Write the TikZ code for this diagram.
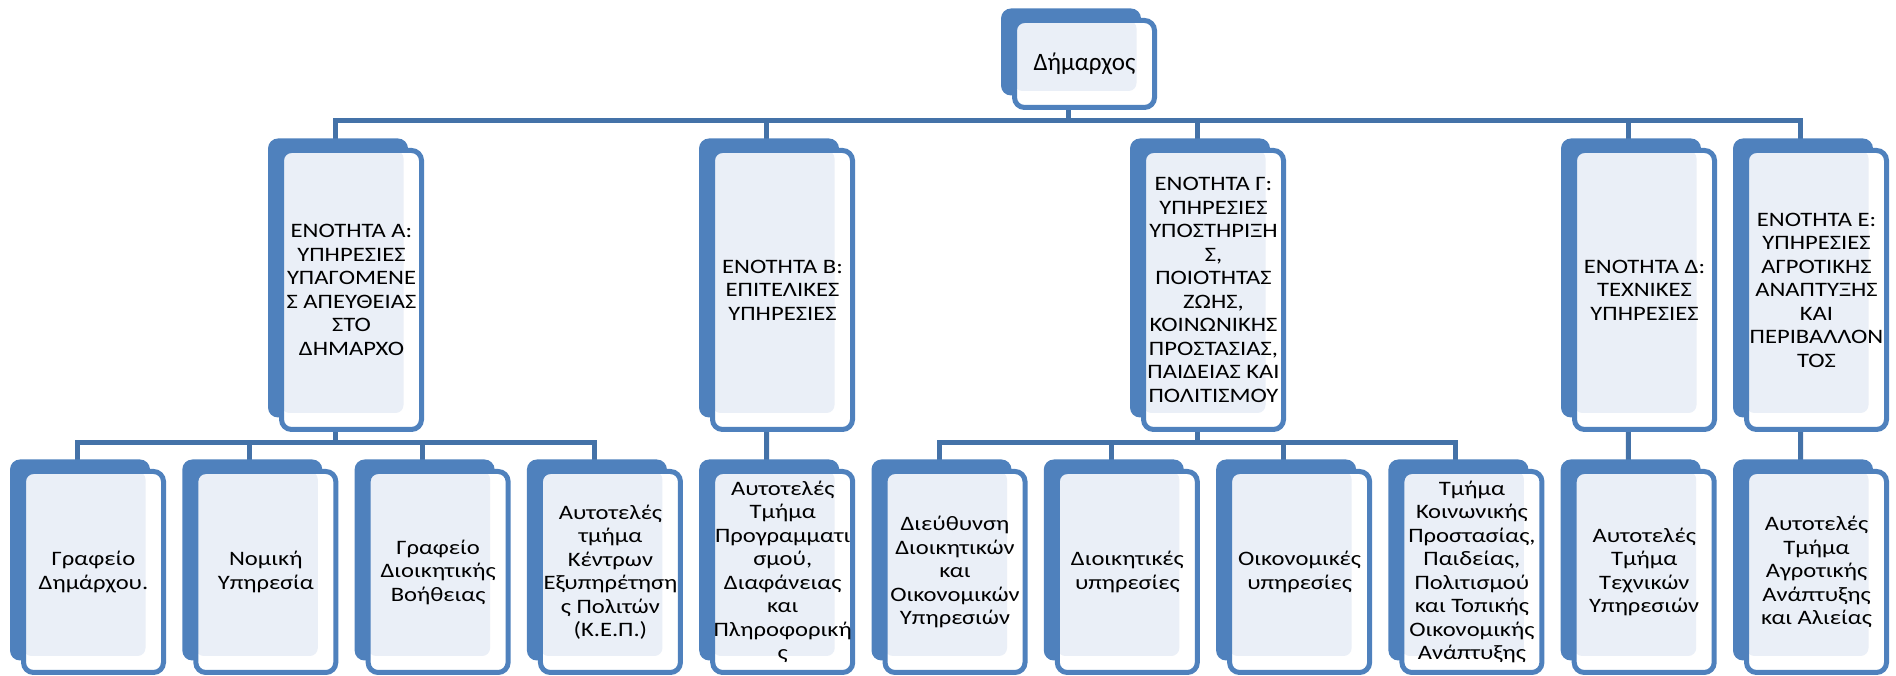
\documentclass[tikz,border=0pt]{standalone}
\usepackage{fontspec}
\setmainfont{Carlito}[FakeStretch=1.2]
\newfontfamily\headfont{Carlito}
\usetikzlibrary{positioning, backgrounds}
\definecolor{ublue}{HTML}{4F81BD}
\definecolor{ulight}{HTML}{EAEFF7}
\definecolor{ulink}{HTML}{4472A8}
\tikzset{
  node distance=172.3pt,
  unit/.style={draw=ublue, line width=5pt, fill=white, rounded corners=10pt,
    minimum width=140pt, inner sep=0pt, outer sep=0pt, align=center,
    font=\fontsize{20.5}{23.5}\selectfont,
    preaction={fill=ublue, transform canvas={shift={(-13.5pt,12pt)}}},
    path picture={\fill[ulight, rounded corners=8pt]
      (path picture bounding box.north west) rectangle
      ([xshift=-18pt,yshift=16.5pt]path picture bounding box.south east);}},
  head/.style={unit, minimum height=87pt, font=\headfont\fontsize{25}{29}\selectfont},
  mid/.style={unit, minimum height=279pt},
  low/.style={unit, minimum height=201pt},
  link/.style={draw=ulink, line width=5pt},
}
\begin{document}
\begin{tikzpicture}[x=1pt, y=1pt]
      \useasboundingbox (0,0) rectangle (1896,676);

      \node[head] (mayor) at (1084.5,612) {Δήμαρχος};

      \node[mid] (A) at (351.5,386)  {ΕΝΟΤΗΤΑ Α:\\ΥΠΗΡΕΣΙΕΣ\\ΥΠΑΓΟΜΕΝΕ\\Σ ΑΠΕΥΘΕΙΑΣ\\ΣΤΟ\\ΔΗΜΑΡΧΟ};
      \node[mid] (B) at (782.5,386)  {ΕΝΟΤΗΤΑ Β:\\ΕΠΙΤΕΛΙΚΕΣ\\ΥΠΗΡΕΣΙΕΣ};
      \node[mid] (G) at (1213.5,386) {ΕΝΟΤΗΤΑ Γ:\\ΥΠΗΡΕΣΙΕΣ\\ΥΠΟΣΤΗΡΙΞΗ\\Σ,\\ΠΟΙΟΤΗΤΑΣ\\ΖΩΗΣ,\\ΚΟΙΝΩΝΙΚΗΣ\\ΠΡΟΣΤΑΣΙΑΣ,\\ΠΑΙΔΕΙΑΣ ΚΑΙ\\ΠΟΛΙΤΙΣΜΟΥ};
      \node[mid] (D) at (1644.5,386) {ΕΝΟΤΗΤΑ Δ:\\ΤΕΧΝΙΚΕΣ\\ΥΠΗΡΕΣΙΕΣ};
      \node[mid] (E) at (1816.5,386) {ΕΝΟΤΗΤΑ Ε:\\ΥΠΗΡΕΣΙΕΣ\\ΑΓΡΟΤΙΚΗΣ\\ΑΝΑΠΤΥΞΗΣ\\ΚΑΙ\\ΠΕΡΙΒΑΛΛΟΝ\\ΤΟΣ};

      \node[low] (a1) at (93.5,104) {Γραφείο\\Δημάρχου.};
      \node[low,right of=a1] (a2) {Νομική\\Υπηρεσία};
      \node[low,right of=a2] (a3) {Γραφείο\\Διοικητικής\\Βοήθειας};
      \node[low,right of=a3] (a4) {Αυτοτελές\\τμήμα\\Κέντρων\\Εξυπηρέτηση\\ς Πολιτών\\(Κ.Ε.Π.)};
      \node[low,right of=a4] (b1) {Αυτοτελές\\Τμήμα\\Προγραμματι\\σμού,\\Διαφάνειας\\και\\Πληροφορική\\ς};
      \node[low,right of=b1] (g1) {Διεύθυνση\\Διοικητικών\\και\\Οικονομικών\\Υπηρεσιών};
      \node[low,right of=g1] (g2) {Διοικητικές\\υπηρεσίες};
      \node[low,right of=g2] (g3) {Οικονομικές\\υπηρεσίες};
      \node[low,right of=g3] (g4) {Τμήμα\\Κοινωνικής\\Προστασίας,\\Παιδείας,\\Πολιτισμού\\και Τοπικής\\Οικονομικής\\Ανάπτυξης};
      \node[low,right of=g4] (d1) {Αυτοτελές\\Τμήμα\\Τεχνικών\\Υπηρεσιών};
      \node[low,right of=d1] (e1) {Αυτοτελές\\Τμήμα\\Αγροτικής\\Ανάπτυξης\\και Αλιείας};

      % connectors, behind the boxes
      \coordinate (bus1) at (0,555);
      \coordinate (bus2) at (0,233);
      \foreach \n in {mayor,A,B,G,D,E,a1,a2,a3,a4,b1,g1,g2,g3,g4,d1,e1}
        \coordinate (\n-c) at ([xshift=-16pt]\n.center);

      \begin{scope}[on background layer]
        \foreach \k in {A,B,G,D,E}
          \draw[link] (mayor-c) -- (mayor-c |- bus1) -| (\k-c);
        \foreach \k in {a1,a2,a3,a4}
          \draw[link] (A-c) -- (A-c |- bus2) -| (\k-c);
        \foreach \k in {g1,g2,g3,g4}
          \draw[link] (G-c) -- (G-c |- bus2) -| (\k-c);
        \draw[link] (B-c) -- (b1-c);
        \draw[link] (D-c) -- (d1-c);
        \draw[link] (E-c) -- (e1-c);
      \end{scope}
\end{tikzpicture}
\end{document}
